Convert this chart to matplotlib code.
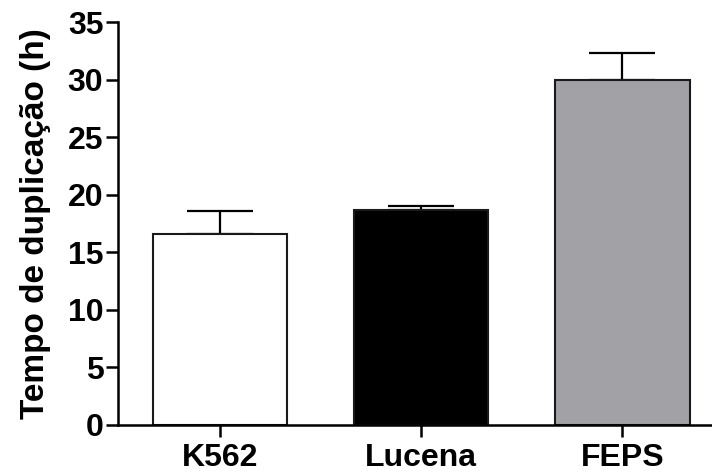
import matplotlib
matplotlib.use("Agg")
import matplotlib.pyplot as plt

# dados
grupos = ["K562", "Lucena", "FEPS"]
media = [16.6, 18.7, 30.0]
erro = [2.0, 0.3, 2.35]
cores = ["white", "black", "#a2a1a6"]

plt.rcParams['font.family'] = ['Liberation Sans', 'DejaVu Sans']
plt.rcParams['font.weight'] = 'bold'

fig = plt.figure(figsize=(7.12, 4.72), dpi=100)
ax = fig.add_axes([0.1657, 0.1002, 0.8343, 0.8526])

x = list(range(len(grupos)))
ax.bar(x, media, width=0.667, color=cores, edgecolor="#1a1a1a", linewidth=1.5, zorder=2)
ax.errorbar(x, media, yerr=[[0] * len(erro), erro], fmt="none", ecolor="black",
            elinewidth=1.6, capsize=24, capthick=1.6, zorder=1)

ax.set_xlim(-0.505, 2.445)
ax.set_ylim(0, 35)
ax.set_yticks(range(0, 36, 5))
ax.set_xticks(x)
ax.set_xticklabels(grupos)
ax.set_ylabel("Tempo de duplicação (h)", fontsize=24, fontweight="bold", labelpad=12)

for s in ["top", "right"]:
    ax.spines[s].set_visible(False)
for s in ["left", "bottom"]:
    ax.spines[s].set_linewidth(1.8)
ax.tick_params(axis="both", width=1.8, length=8.5, labelsize=23)
ax.tick_params(axis="y", pad=2)
ax.tick_params(axis="x", pad=5)

fig.savefig("out.png", dpi=100)
